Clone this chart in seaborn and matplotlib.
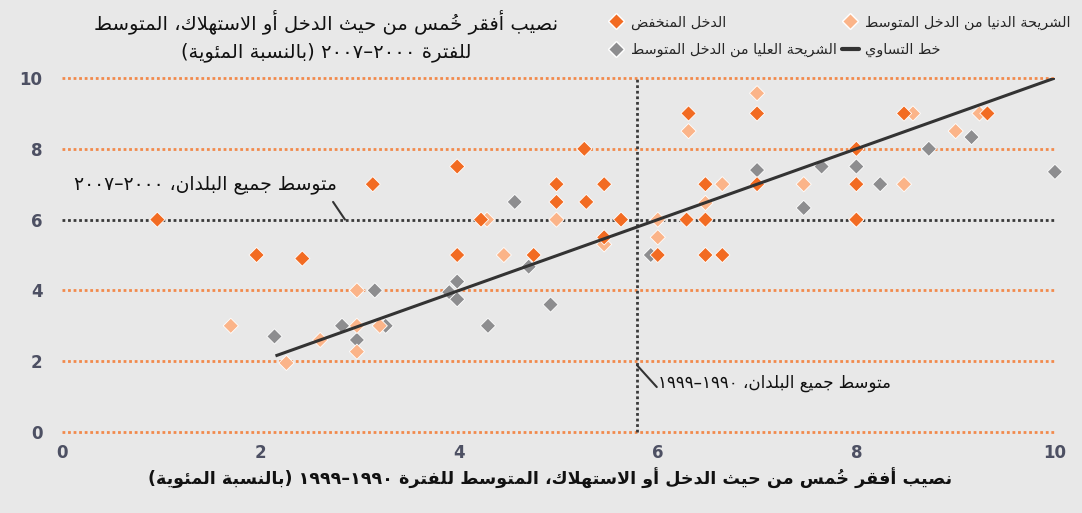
import re
import matplotlib
matplotlib.use("Agg")
import matplotlib.pyplot as plt
from matplotlib.lines import Line2D
import pandas as pd
import seaborn as sns

# ---- data ----
low_x = [0.96, 1.96, 2.42, 3.13, 3.98, 3.98, 4.22, 4.75, 4.98, 4.98, 5.26, 5.28, 5.46,
         5.46, 5.63, 6.0, 6.29, 6.31, 6.48, 6.48, 6.48, 6.65, 7.0, 7.0, 8.0, 8.0, 8.0,
         8.0, 8.48, 9.32]
low_y = [6.0, 5.0, 4.9, 7.0, 7.5, 5.0, 6.0, 5.0, 7.0, 6.5, 8.0, 6.5, 7.0,
         5.5, 6.0, 5.0, 6.0, 9.0, 7.0, 6.0, 5.0, 5.0, 9.0, 7.0, 8.0, 7.0, 6.0,
         6.0, 9.0, 9.0]
lm_x = [1.70, 2.26, 2.60, 2.97, 2.97, 2.97, 3.20, 4.28, 4.45, 4.98, 5.46, 6.0, 6.0,
        6.31, 6.48, 6.65, 7.0, 7.47, 8.48, 8.57, 9.0, 9.24]
lm_y = [3.0, 1.95, 2.6, 4.0, 3.0, 2.27, 3.0, 6.0, 5.0, 6.0, 5.3, 6.0, 5.5,
        8.5, 6.47, 7.0, 9.57, 7.0, 7.0, 9.0, 8.5, 9.0]
um_x = [2.14, 2.82, 2.97, 3.15, 3.26, 3.90, 3.98, 3.98, 4.29, 4.56, 4.70, 4.92, 5.93,
        7.0, 7.47, 7.65, 8.0, 8.24, 8.73, 9.16, 10.0]
um_y = [2.7, 3.0, 2.6, 4.0, 3.0, 3.95, 4.25, 3.75, 3.0, 6.5, 4.67, 3.6, 5.0,
        7.4, 6.33, 7.5, 7.5, 7.0, 8.0, 8.33, 7.35]
eq_x = [2.15, 10.0]
eq_y = [2.15, 10.0]
avg_2000s = 6.0
avg_1990s = 5.79

groups = ["الشريحة العليا من الدخل المتوسط", "الشريحة الدنيا من الدخل المتوسط", "الدخل المنخفض"]
colors = ["#8d8d8f", "#fbb489", "#f26b22"]
eq_label = "خط التساوي"
title_1 = "نصيب أفقر خُمس من حيث الدخل أو الاستهلاك، المتوسط"
title_2 = "للفترة ٢٠٠٠–٢٠٠٧ (بالنسبة المئوية)"
xlabel = "نصيب أفقر خُمس من حيث الدخل أو الاستهلاك، المتوسط للفترة ١٩٩٠–١٩٩٩ (بالنسبة المئوية)"
note_2000s = "متوسط جميع البلدان، ٢٠٠٠–٢٠٠٧"
note_1990s = "متوسط جميع البلدان، ١٩٩٠–١٩٩٩"

# ---- minimal arabic shaping + rtl ordering (matplotlib has no text shaping) ----
FORMS = {'ء': (0xFE80, 1), 'آ': (0xFE81, 2), 'أ': (0xFE83, 2), 'ؤ': (0xFE85, 2), 'إ': (0xFE87, 2),
         'ئ': (0xFE89, 4), 'ا': (0xFE8D, 2), 'ب': (0xFE8F, 4), 'ة': (0xFE93, 2), 'ت': (0xFE95, 4),
         'ث': (0xFE99, 4), 'ج': (0xFE9D, 4), 'ح': (0xFEA1, 4), 'خ': (0xFEA5, 4), 'د': (0xFEA9, 2),
         'ذ': (0xFEAB, 2), 'ر': (0xFEAD, 2), 'ز': (0xFEAF, 2), 'س': (0xFEB1, 4), 'ش': (0xFEB5, 4),
         'ص': (0xFEB9, 4), 'ض': (0xFEBD, 4), 'ط': (0xFEC1, 4), 'ظ': (0xFEC5, 4), 'ع': (0xFEC9, 4),
         'غ': (0xFECD, 4), 'ف': (0xFED1, 4), 'ق': (0xFED5, 4), 'ك': (0xFED9, 4), 'ل': (0xFEDD, 4),
         'م': (0xFEE1, 4), 'ن': (0xFEE5, 4), 'ه': (0xFEE9, 4), 'و': (0xFEED, 2), 'ى': (0xFEEF, 2),
         'ي': (0xFEF1, 4)}
LAMALEF = {'آ': 0xFEF5, 'أ': 0xFEF7, 'إ': 0xFEF9, 'ا': 0xFEFB}
MARKS = set(chr(c) for c in range(0x064B, 0x0653))
MIRROR = {'(': ')', ')': '('}


def shape(s):
    out, i = [], 0

    def neighbour(j, step):
        j += step
        while 0 <= j < len(s) and s[j] in MARKS:
            j += step
        return s[j] if 0 <= j < len(s) else None

    while i < len(s):
        c = s[i]
        if c not in FORMS:
            out.append(c)
            i += 1
            continue
        prev = neighbour(i, -1)
        jp = prev in FORMS and FORMS[prev][1] == 4
        if c == 'ل' and i + 1 < len(s) and s[i + 1] in LAMALEF:
            out.append(chr(LAMALEF[s[i + 1]] + (1 if jp else 0)))
            i += 2
            continue
        nxt = neighbour(i, 1)
        start, n = FORMS[c]
        jn = n == 4 and nxt in FORMS and FORMS[nxt][1] >= 2
        if n == 1:
            k = 0
        elif n == 2:
            k = 1 if jp else 0
        else:
            k = 3 if (jp and jn) else 1 if jp else 2 if jn else 0
        out.append(chr(start + k))
        i += 1
    return ''.join(out)


def ar(s):
    tokens = re.findall(r'[0-9\u0660-\u0669]+|.[\u064B-\u0652]*', shape(s))
    vis = []
    for t in reversed(tokens):
        # zero-width mark goes first so it is drawn over its base letter
        vis.append(t[1:] + t[0] if len(t) > 1 and t[1] in MARKS else MIRROR.get(t, t))
    return ''.join(vis)


# ---- plot ----
df = pd.concat([
    pd.DataFrame({"x": um_x, "y": um_y, "group": groups[0]}),
    pd.DataFrame({"x": lm_x, "y": lm_y, "group": groups[1]}),
    pd.DataFrame({"x": low_x, "y": low_y, "group": groups[2]}),
], ignore_index=True)

sns.set_theme(style="white")
plt.rcParams['font.family'] = ['DejaVu Sans']
bg = "#e8e8e8"

fig = plt.figure(figsize=(10.82, 5.13), dpi=100, facecolor=bg)
ax = fig.add_axes([0.0573, 0.1579, 0.9177, 0.690])
ax.set_facecolor(bg)

orange_dot = "#f28a4c"
for yv in [0, 2, 4, 8, 10]:
    ax.axhline(yv, color=orange_dot, lw=2, ls=(0, (1, 1)), zorder=1, clip_on=False)
ax.axhline(avg_2000s, color="#3a3a3a", lw=2, ls=(0, (1, 1)), zorder=1)
ax.axvline(avg_1990s, color="#3a3a3a", lw=2, ls=(0, (1, 1)), zorder=1, clip_on=False)

sns.scatterplot(data=df, x="x", y="y", hue="group", palette=dict(zip(groups, colors)),
                marker="D", s=60, edgecolor="white", linewidth=0.6, legend=False,
                clip_on=False, zorder=2, ax=ax)
ax.plot(eq_x, eq_y, color="#333333", lw=2.2, zorder=3, solid_capstyle="butt")

ax.set_xlim(0, 10)
ax.set_ylim(0, 10)
ax.set_xticks([0, 2, 4, 6, 8, 10])
ax.set_yticks([0, 2, 4, 6, 8, 10])
ax.set_xlabel("")
ax.set_ylabel("")
for sp in ax.spines.values():
    sp.set_visible(False)
ax.tick_params(axis="both", length=0, labelsize=12, labelcolor="#4d5063")
ax.tick_params(axis="y", pad=14)
ax.tick_params(axis="x", pad=9)
for lab in ax.get_xticklabels() + ax.get_yticklabels():
    lab.set_fontweight("bold")

# annotations
ax.annotate("", xy=(2.85, avg_2000s), xytext=(2.73, 6.5),
            arrowprops=dict(arrowstyle="-", lw=1.5, color="#333333", shrinkA=0, shrinkB=0))
ax.text(2.77, 7.0, ar(note_2000s), ha="right", va="center", fontsize=13.5, color="#111111")
ax.annotate("", xy=(avg_1990s, 1.89), xytext=(5.99, 1.27),
            arrowprops=dict(arrowstyle="-", lw=1.5, color="#333333", shrinkA=0, shrinkB=0))
ax.text(6.0, 1.38, ar(note_1990s), ha="left", va="center", fontsize=12, color="#111111")

# titles
fig.text(326 / 1082, 1 - 22 / 513, ar(title_1), ha="center", va="center", fontsize=14, color="#111111")
fig.text(326 / 1082, 1 - 52 / 513, ar(title_2), ha="center", va="center", fontsize=14, color="#111111")
fig.text(550 / 1082, 1 - 478 / 513, ar(xlabel), ha="center", va="center", fontsize=12.6,
         fontweight="bold", color="#111111")

# legend (two columns, markers on the left)
handles = [
    Line2D([], [], marker="D", ls="none", color=colors[2], markeredgecolor="white", markersize=8),
    Line2D([], [], marker="D", ls="none", color=colors[0], markeredgecolor="white", markersize=8),
    Line2D([], [], marker="D", ls="none", color=colors[1], markeredgecolor="white", markersize=8),
    Line2D([], [], color="#333333", lw=3),
]
labels = [ar(groups[2]), ar(groups[0]), ar(groups[1]), ar(eq_label)]
ax.legend(handles, labels, ncol=2, loc="upper left", bbox_to_anchor=(0.5615, 0.97),
          bbox_transform=fig.transFigure, frameon=False, fontsize=10.4, handlelength=1.2,
          handletextpad=0.4, columnspacing=0.35, labelspacing=0.9, borderpad=0, borderaxespad=0)

fig.savefig("out.png", dpi=100, facecolor=bg)
